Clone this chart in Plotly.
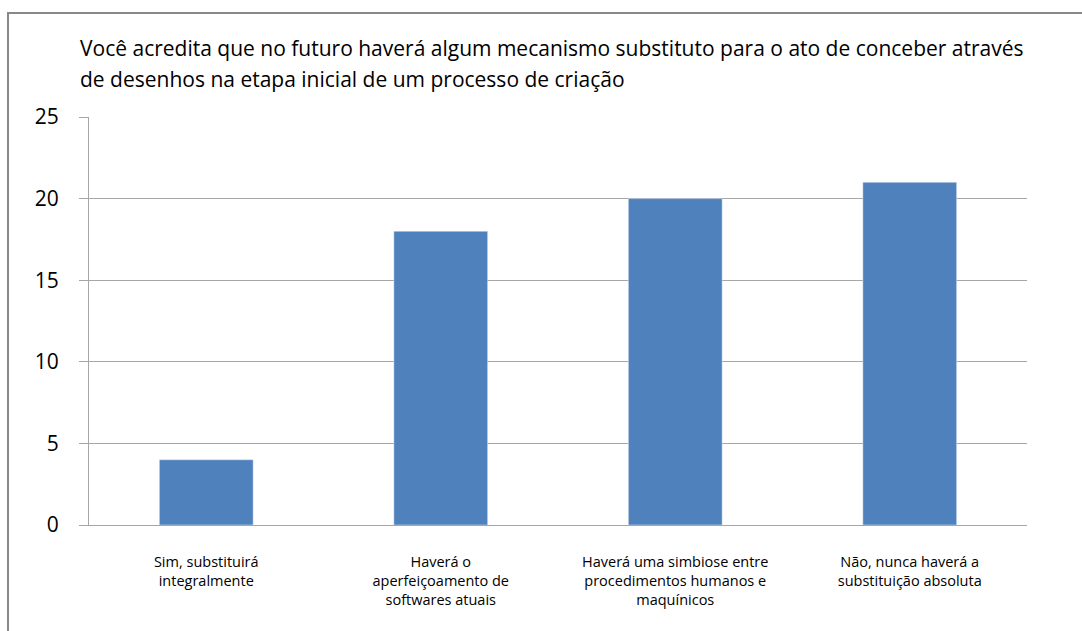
import plotly.graph_objects as go

categories = [
    "Sim, substituirá<br>integralmente",
    "Haverá o<br>aperfeiçoamento de<br>softwares atuais",
    "Haverá uma simbiose entre<br>procedimentos humanos e<br>maquínicos",
    "Não, nunca haverá a<br>substituição absoluta",
]
values = [4, 18, 20, 21]
title_lines = [
    "Você acredita que no futuro haverá algum mecanismo substituto para o ato de conceber através",
    "de desenhos na etapa inicial de um processo de criação",
]
y_ticks = [0, 5, 10, 15, 20, 25]

W, H = 1082, 631
L, R, T, B = 89, 55, 117, 106
pw, ph = W - L - R, H - T - B

def px(x):
    return (x - L) / pw

def py(y):
    return (H - B - y) / ph

FONT = "Open Sans"
fig = go.Figure(go.Bar(x=categories, y=values, marker_color="#4F81BD", width=0.4))

fig.update_layout(
    width=W, height=H,
    margin=dict(l=L, r=R, t=T, b=B),
    paper_bgcolor="white", plot_bgcolor="white",
    showlegend=False,
    font=dict(family=FONT, color="#000000"),
)
fig.update_yaxes(
    range=[0, 25], tickvals=y_ticks, showgrid=True, gridcolor="#A6A6A6", gridwidth=1,
    showline=True, linecolor="#A6A6A6", linewidth=1,
    ticks="outside", ticklen=9, tickcolor="#A6A6A6", ticklabelstandoff=16,
    tickfont=dict(size=21, family=FONT, color="#000"), zeroline=False,
)
fig.update_xaxes(
    showline=True, linecolor="#A6A6A6", linewidth=1, ticks="",
    tickfont=dict(size=14.5, family=FONT, color="#000"), ticklabelstandoff=24,
)

for i, line in enumerate(title_lines):
    fig.add_annotation(
        text=line, xref="paper", yref="paper", x=px(78), y=py([48, 79][i]),
        xanchor="left", yanchor="middle", showarrow=False,
        font=dict(size=21, family=FONT, color="#000"),
    )

fig.add_shape(
    type="rect", xref="paper", yref="paper",
    x0=px(8), x1=px(1100), y0=py(650), y1=py(13),
    line=dict(color="#888888", width=2), fillcolor="rgba(0,0,0,0)", layer="below",
)

fig.write_html("out.html", config={"displayModeBar": False},
               post_script="document.body.style.margin='0';")
